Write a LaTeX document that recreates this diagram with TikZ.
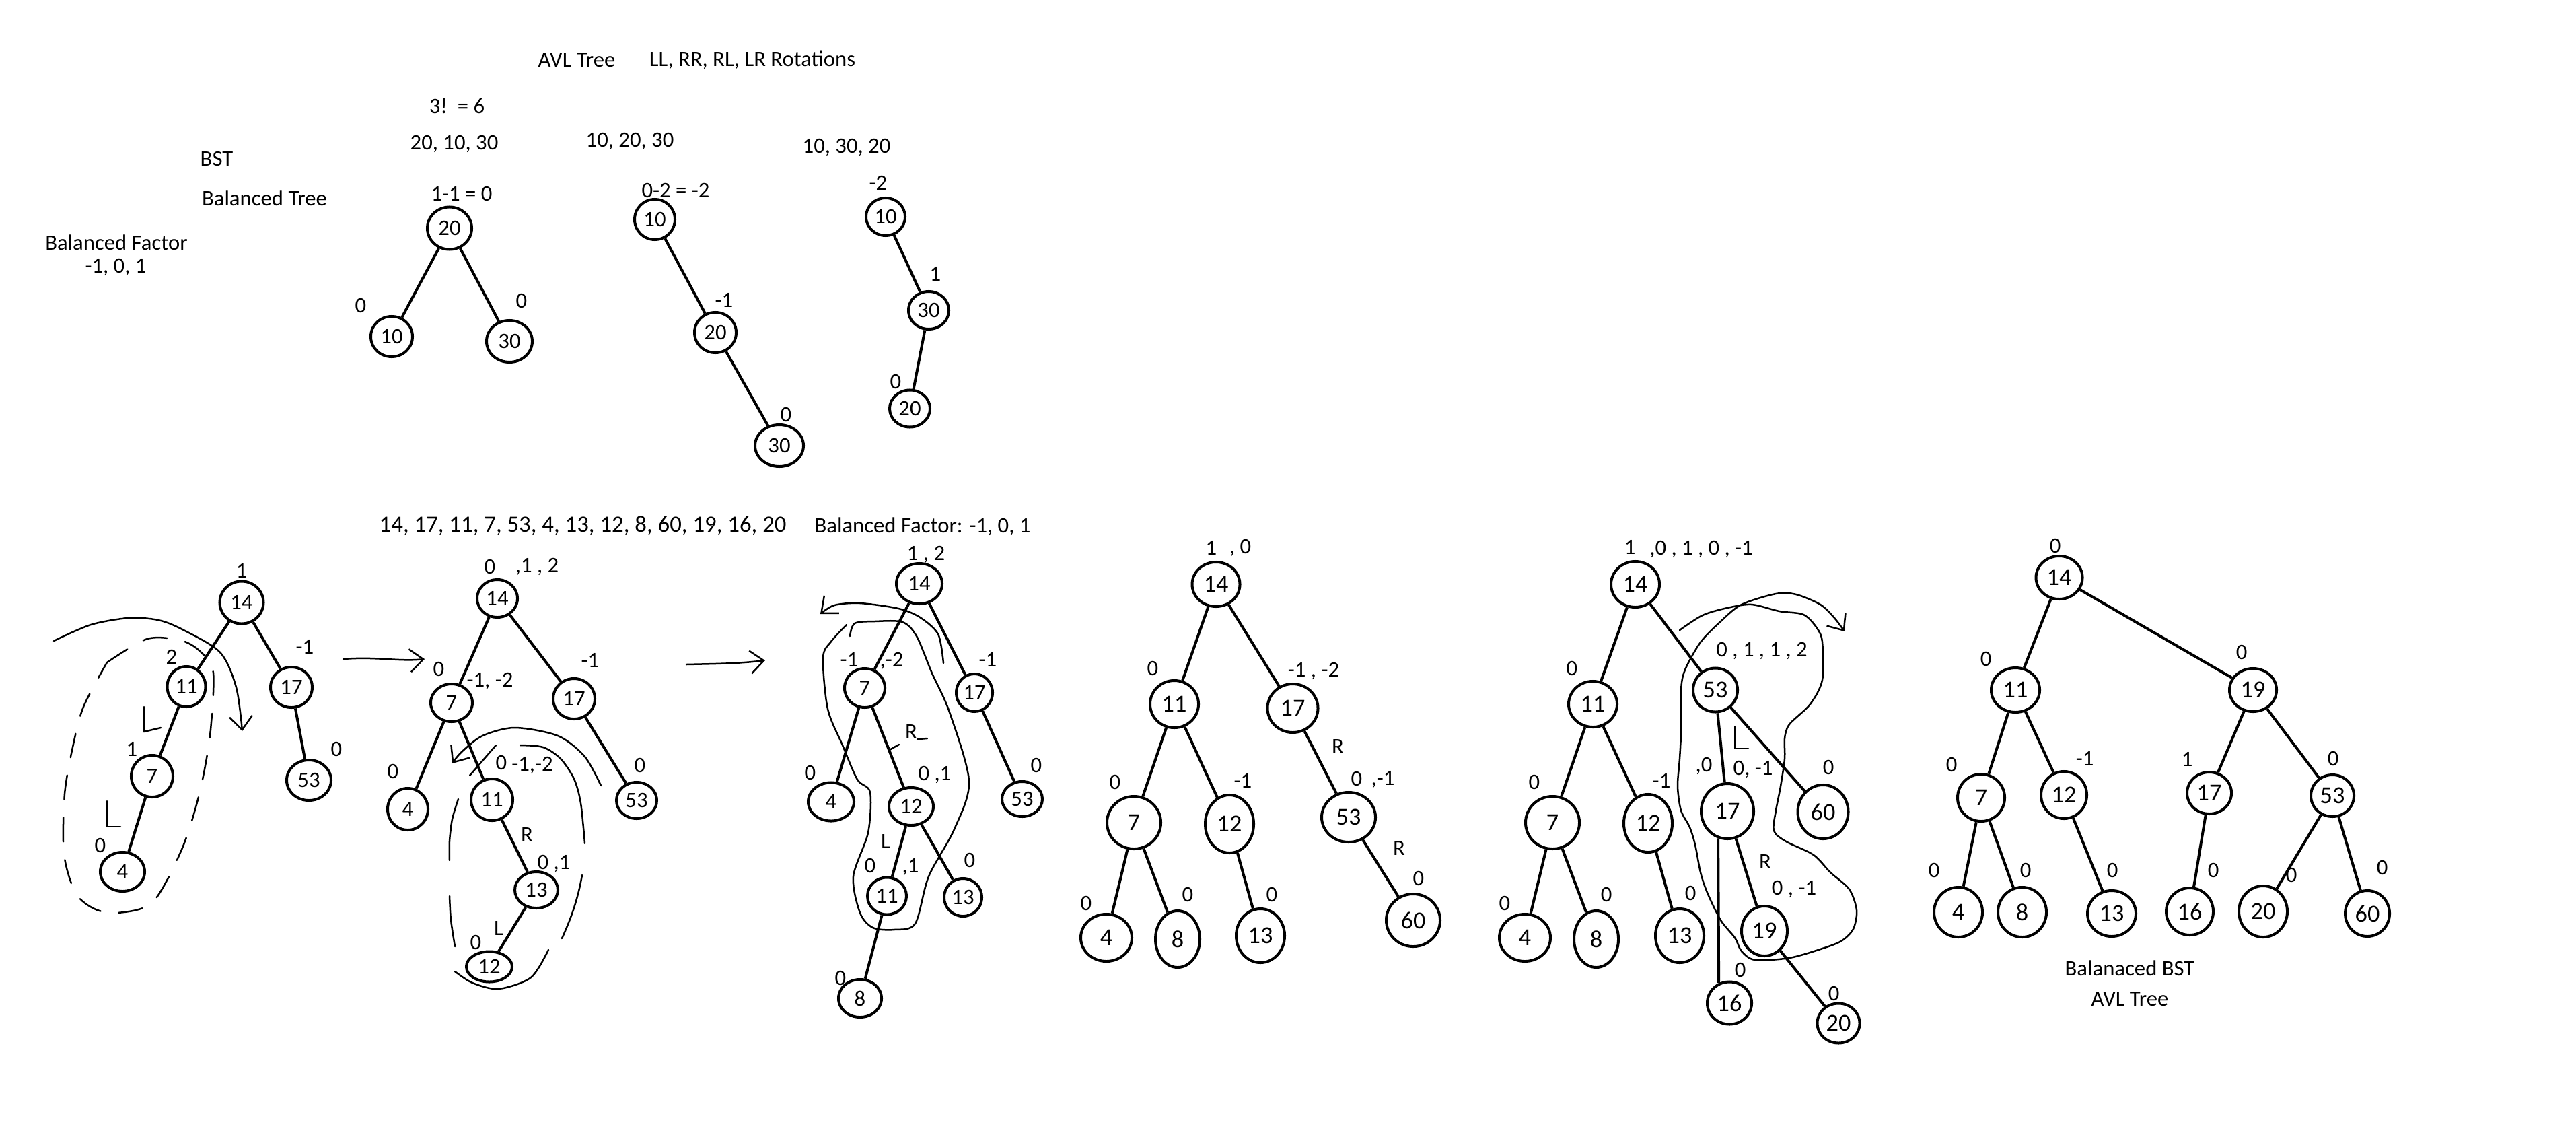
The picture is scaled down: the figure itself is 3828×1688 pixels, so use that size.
\documentclass[tikz,border=0pt]{standalone}
\usepackage{fontspec}
\setmainfont{Carlito}
\usetikzlibrary{shapes.geometric,arrows.meta}

\begin{document}
\begin{tikzpicture}[
        x=0.01cm, y=-0.01cm,
        font=\fontsize{9.3pt}{11pt}\selectfont,
        every node/.style={inner sep=0pt},
        key/.style={ellipse, draw, line width=0.04cm, minimum width=0.62cm, minimum height=0.6cm},
        bigkey/.style={key, minimum width=0.72cm, minimum height=0.7cm, font=\fontsize{10.3pt}{12pt}\selectfont},
        sz/.style 2 args={minimum width=#1cm, minimum height=#2cm},
        link/.style={line width=0.04cm},
        hand/.style={line width=0.025cm, line cap=round, line join=round},
        barb/.style={-{Straight Barb[length=0.2cm, width=0.34cm]}},
        gapdash/.style={hand, dash pattern=on 0.36cm off 0.27cm}
    ]
    \useasboundingbox (0,0) rectangle (3828,1688);

    % Headings
    \node (avl) at (857,89) {AVL Tree};
    \node (rot) at (1118,89) {LL, RR, RL, LR Rotations};
    \node (perm) at (679,158) {3!\ \ = 6};
    \node (seqa) at (675,214) {20, 10, 30};
    \node (seqb) at (936,210) {10, 20, 30};
    \node (seqc) at (1258,219) {10, 30, 20};
    \node (bst) at (322,236) {BST};
    \node (baltree) at (393,294) {Balanced Tree};
    \node (balfac) at (173,360) {Balanced Factor};
    \node (balrange) at (172,397) {-1, 0, 1};
    \node[font=\fontsize{9.9pt}{12pt}\selectfont] (keys) at (866,781) {14, 17, 11, 7, 53, 4, 13, 12, 8, 60, 19, 16, 20};
    \node (balfacb) at (1371,782) {Balanced Factor: -1, 0, 1};
    \node (avlbst) at (3165,1438) {Balanaced BST};
    \node (avlname) at (3165,1484) {AVL Tree};

    % Three small trees
    \node[key, sz={0.66}{0.63}] (pa20) at (668,339) {20};
    \node[key] (pa10) at (582,500) {10};
    \node[key, sz={0.68}{0.62}] (pa30) at (757,507) {30};
    \node[key, sz={0.6}{0.6}] (pb10) at (973,326) {10};
    \node[key] (pb20) at (1063,494) {20};
    \node[key, sz={0.72}{0.62}] (pb30) at (1158,662) {30};
    \node[key, sz={0.58}{0.56}] (pc10) at (1316,322) {10};
    \node[key, sz={0.6}{0.56}] (pc30) at (1380,461) {30};
    \node[key, sz={0.6}{0.55}] (pc20) at (1352,607) {20};
    \foreach \p/\t [count=\i] in {(686,288)/{1-1 = 0}, (536,454)/0, (775,447)/0,
        (1004,283)/{0-2 = -2}, (1076,446)/-1, (1168,616)/0,
        (1305,272)/-2, (1390,407)/1, (1331,567)/0}
        \node (bfp\i) at \p {\t};
    \foreach \u/\v in {pa20/pa10, pa20/pa30, pb10/pb20, pb20/pb30, pc10/pc30, pc30/pc20}
        \draw[link] (\u) -- (\v);

    % Tree A: 14, 17, 11, 7, 53, 4
    \node[key, sz={0.65}{0.63}] (a14) at (359,895) {14};
    \node[key, sz={0.57}{0.6}] (a11) at (277,1020) {11};
    \node[key] (a17) at (433,1021) {17};
    \node[key, sz={0.62}{0.62}] (a7) at (226,1153) {7};
    \node[key, sz={0.66}{0.6}] (a53) at (459,1159) {53};
    \node[key, sz={0.66}{0.58}] (a4) at (182,1295) {4};
    \foreach \u/\v in {a14/a11, a14/a17, a11/a7, a17/a53, a7/a4}
        \draw[link] (\u) -- (\v);
    \foreach \p/\t [count=\i] in {(359,848)/1, (255,976)/2, (453,961)/-1,
        (196,1113)/1, (500,1113)/0, (149,1256)/0}
        \node (bfa\i) at \p {\t};
    \draw[hand] (214,1050) -- (214,1087) -- (239,1081);
    \draw[hand] (159,1190) -- (159,1228) -- (179,1228);
    \draw[hand, barb] plot[smooth] coordinates {(80,952) (135,928) (191,918) (235,921) (271,935) (327,969) (351,1021) (360,1086)};
    \draw[gapdash] plot[smooth] coordinates {(159,984) (219,949) (271,952) (300,970) (317,1000) (312,1093) (296,1180) (270,1262) (227,1340) (175,1356) (140,1350) (112,1326) (95,1268) (96,1180) (108,1110) (124,1050) (159,984)};

    % A -> B
    \draw[hand, barb] (510,979) .. controls (560,975) and (592,983) .. (631,979);

    % Tree B: insert 13, 12
    \node[key, sz={0.6}{0.56}] (b14) at (739,889) {14};
    \node[key, sz={0.62}{0.56}] (b7) at (671,1044) {7};
    \node[key, sz={0.62}{0.6}] (b17) at (853,1038) {17};
    \node[key, sz={0.6}{0.62}] (b4) at (606,1202) {4};
    \node[key, sz={0.62}{0.62}] (b11) at (731,1188) {11};
    \node[key, sz={0.6}{0.54}] (b53) at (946,1189) {53};
    \node[key, sz={0.64}{0.54}] (b13) at (797,1322) {13};
    \node[key, sz={0.68}{0.45}] (b12) at (727,1436) {12};
    \foreach \u/\v in {b14/b7, b14/b17, b7/b4, b7/b11, b17/b53, b11/b13, b13/b12}
        \draw[link] (\u) -- (\v);
    \foreach \p/\t [count=\i] in {(728,842)/0, (798,842)/{,1 , 2}, (652,994)/0,
        (728,1012)/{-1, -2}, (877,981)/-1, (584,1146)/0, (745,1133)/0,
        (791,1137)/{-1,-2}, (951,1137)/0, (783,1240)/R, (823,1283)/{0 ,1},
        (741,1379)/L, (707,1400)/0}
        \node (bfb\i) at \p {\t};
    \draw[hand, barb] plot[smooth] coordinates {(893,1167) (869,1124) (829,1093) (765,1081) (717,1093) (686,1117) (672,1134)};
    \draw[hand] (698,1152) -- (737,1107);
    \draw[hand] plot[smooth] coordinates {(773,1107) (807,1110) (833,1127) (853,1157) (863,1193) (869,1253)};
    \draw[hand] (865,1300) .. controls (858,1340) and (846,1370) .. (835,1394);
    \draw[hand] plot[smooth] coordinates {(815,1411) (789,1452) (741,1469) (702,1460) (676,1443)};
    \draw[hand] plot[smooth] coordinates {(681,1187) (672,1217) (668,1250) (668,1278)};
    \draw[hand] plot[smooth] coordinates {(668,1331) (670,1366) (676,1406)};

    % B -> C
    \draw[hand, barb] (1020,987) .. controls (1060,986) and (1095,986) .. (1137,981);

    % Tree C: after rotation of 12
    \node[key, sz={0.68}{0.6}] (c14) at (1366,867) {14};
    \node[key, sz={0.6}{0.58}] (c7) at (1285,1022) {7};
    \node[key, sz={0.54}{0.56}] (c17) at (1448,1029) {17};
    \node[key, sz={0.68}{0.57}] (c4) at (1235,1191) {4};
    \node[key, sz={0.66}{0.56}] (c12) at (1354,1198) {12};
    \node[key, sz={0.6}{0.52}] (c53) at (1519,1187) {53};
    \node[key, sz={0.58}{0.55}] (c11) at (1318,1331) {11};
    \node[key, sz={0.56}{0.56}] (c13) at (1431,1333) {13};
    \node[key, sz={0.64}{0.56}] (c8) at (1278,1483) {8};
    \foreach \u/\v in {c14/c7, c14/c17, c7/c4, c7/c12, c17/c53, c12/c11, c12/c13, c11/c8}
        \draw[link] (\u) -- (\v);
    \foreach \p/\t [count=\i] in {(1376,824)/{1 , 2}, (1262,980)/-1, (1325,982)/{,-2},
        (1468,980)/-1, (1354,1087)/R, (1389,1151)/{0 ,1}, (1204,1148)/0,
        (1540,1137)/0, (1316,1250)/L, (1293,1286)/0, (1353,1288)/{,1},
        (1441,1278)/0, (1249,1453)/0}
        \node (bfc\i) at \p {\t};
    \draw[hand] (1363,1098) -- (1378,1097);
    \draw[hand] (1320,1115) -- (1336,1106);
    \draw[hand, barb] plot[smooth] coordinates {(1402,985) (1394,942) (1367,917) (1335,904) (1278,896) (1240,899) (1219,912)};
    \draw[hand] plot[smooth] coordinates {(1263,945) (1270,926) (1300,923) (1341,924) (1362,945) (1385,1000) (1411,1058) (1440,1161) (1418,1232) (1380,1302) (1360,1372) (1329,1381) (1297,1378) (1278,1356) (1268,1302) (1290,1237) (1293,1177) (1274,1158) (1252,1107) (1230,1053) (1223,977) (1235,953) (1258,928)};

    % Tree D: rotation at 17
    \node[bigkey, sz={0.71}{0.66}] (d14) at (1807,868) {14};
    \node[bigkey] (d11) at (1745,1046) {11};
    \node[bigkey, sz={0.75}{0.72}] (d17) at (1921,1052) {17};
    \node[bigkey, sz={0.8}{0.78}] (d7) at (1685,1222) {7};
    \node[bigkey, sz={0.72}{0.86}] (d12) at (1827,1224) {12};
    \node[bigkey, sz={0.8}{0.74}] (d53) at (2004,1214) {53};
    \node[bigkey, sz={0.76}{0.7}] (d4) at (1644,1393) {4};
    \node[bigkey, sz={0.66}{0.84}] (d8) at (1750,1395) {8};
    \node[bigkey, sz={0.72}{0.8}] (d13) at (1873,1390) {13};
    \node[bigkey, sz={0.8}{0.78}] (d60) at (2100,1367) {60};
    \foreach \u/\v in {d14/d11, d14/d17, d11/d7, d11/d12, d17/d53, d7/d4, d7/d8, d12/d13, d53/d60}
        \draw[link] (\u) -- (\v);
    \foreach \p/\t [count=\i] in {(1800,814)/1, (1843,814)/{, 0}, (1713,993)/0,
        (1952,997)/{-1 , -2}, (1988,1109)/R, (1657,1162)/0, (1847,1160)/-1,
        (2016,1157)/0, (2055,1158)/{,-1}, (2079,1260)/R, (2108,1305)/0,
        (1614,1342)/0, (1765,1329)/0, (1890,1329)/0}
        \node (bfd\i) at \p {\t};

    % Tree E: insert 19, 16, 20
    \node[bigkey, sz={0.72}{0.68}] (e14) at (2430,868) {14};
    \node[bigkey, sz={0.72}{0.68}] (e11) at (2367,1046) {11};
    \node[bigkey, sz={0.66}{0.65}] (e53) at (2549,1025) {53};
    \node[bigkey, sz={0.8}{0.78}] (e7) at (2307,1222) {7};
    \node[bigkey, sz={0.72}{0.86}] (e12) at (2449,1223) {12};
    \node[bigkey, sz={0.78}{0.82}] (e17) at (2567,1205) {17};
    \node[bigkey, sz={0.75}{0.8}] (e60) at (2709,1206) {60};
    \node[bigkey, sz={0.76}{0.7}] (e4) at (2266,1393) {4};
    \node[bigkey, sz={0.66}{0.84}] (e8) at (2372,1395) {8};
    \node[bigkey, sz={0.72}{0.8}] (e13) at (2496,1390) {13};
    \node[bigkey, sz={0.68}{0.74}] (e19) at (2622,1383) {19};
    \node[bigkey, sz={0.66}{0.63}] (e16) at (2570,1490) {16};
    \node[bigkey, sz={0.63}{0.59}] (e20) at (2732,1520) {20};
    \foreach \u/\v in {e14/e11, e14/e53, e11/e7, e11/e12, e7/e4, e7/e8, e12/e13, e53/e17, e53/e60, e17/e19, e19/e20}
        \draw[link] (\u) -- (\v);
    \draw[link] (e17.251) -- (e16.118);
    \foreach \p/\t [count=\i] in {(2422,813)/1, (2528,816)/{,0 , 1 , 0 , -1}, (2336,993)/0,
        (2280,1162)/0, (2469,1160)/-1, (2618,967)/{0 , 1 , 1 , 2}, (2532,1138)/{,0},
        (2605,1143)/{0, -1}, (2717,1140)/0, (2623,1280)/R, (2666,1321)/{0 , -1},
        (2236,1342)/0, (2387,1329)/0, (2512,1327)/0, (2586,1441)/0, (2725,1476)/0}
        \node (bfe\i) at \p {\t};
    \draw[hand] (2578,1079) -- (2578,1112) -- (2598,1112);
    \draw[hand, barb] plot[smooth] coordinates {(2496,936) (2530,914) (2567,903) (2603,898) (2644,908) (2680,913) (2700,933) (2708,954) (2708,1010) (2690,1046) (2659,1076) (2652,1097) (2652,1127) (2646,1168) (2639,1204) (2636,1234) (2654,1250) (2695,1270) (2720,1296) (2748,1321) (2759,1352) (2754,1380) (2736,1398) (2705,1410) (2659,1423) (2608,1426) (2588,1413) (2578,1393) (2557,1367) (2537,1326) (2527,1296) (2519,1255) (2511,1229) (2498,1204) (2493,1168) (2496,1127) (2498,1087) (2498,1025) (2504,995) (2527,954) (2557,923) (2588,898) (2639,882) (2669,883) (2705,898) (2726,918) (2741,938)};

    % Tree F: balanced result
    \node[bigkey, sz={0.69}{0.64}] (f14) at (3060,858) {14};
    \node[bigkey, sz={0.72}{0.66}] (f11) at (2995,1025) {11};
    \node[bigkey, sz={0.7}{0.64}] (f19) at (3348,1025) {19};
    \node[bigkey, sz={0.7}{0.7}] (f7) at (2944,1185) {7};
    \node[bigkey, sz={0.68}{0.7}] (f12) at (3067,1181) {12};
    \node[bigkey, sz={0.66}{0.62}] (f17) at (3283,1178) {17};
    \node[bigkey, sz={0.64}{0.62}] (f53) at (3466,1182) {53};
    \node[bigkey, sz={0.72}{0.74}] (f4) at (2910,1355) {4};
    \node[bigkey, sz={0.72}{0.74}] (f8) at (3005,1355) {8};
    \node[bigkey, sz={0.72}{0.68}] (f13) at (3138,1357) {13};
    \node[bigkey, sz={0.7}{0.7}] (f16) at (3254,1354) {16};
    \node[bigkey, sz={0.72}{0.76}] (f20) at (3363,1354) {20};
    \node[bigkey, sz={0.66}{0.68}] (f60) at (3518,1357) {60};
    \foreach \u/\v in {f14/f11, f14/f19, f11/f7, f11/f12, f19/f17, f19/f53, f7/f4, f7/f8, f12/f13, f17/f16, f53/f20, f53/f60}
        \draw[link] (\u) -- (\v);
    \foreach \p/\t [count=\i] in {(3054,811)/0, (2951,979)/0, (3331,969)/0,
        (2900,1136)/0, (3098,1127)/-1, (3250,1128)/1, (3467,1127)/0,
        (2874,1293)/0, (3010,1293)/0, (3139,1293)/0, (3289,1293)/0,
        (3405,1300)/0, (3540,1289)/0}
        \node (bff\i) at \p {\t};

\end{tikzpicture}
\end{document}
